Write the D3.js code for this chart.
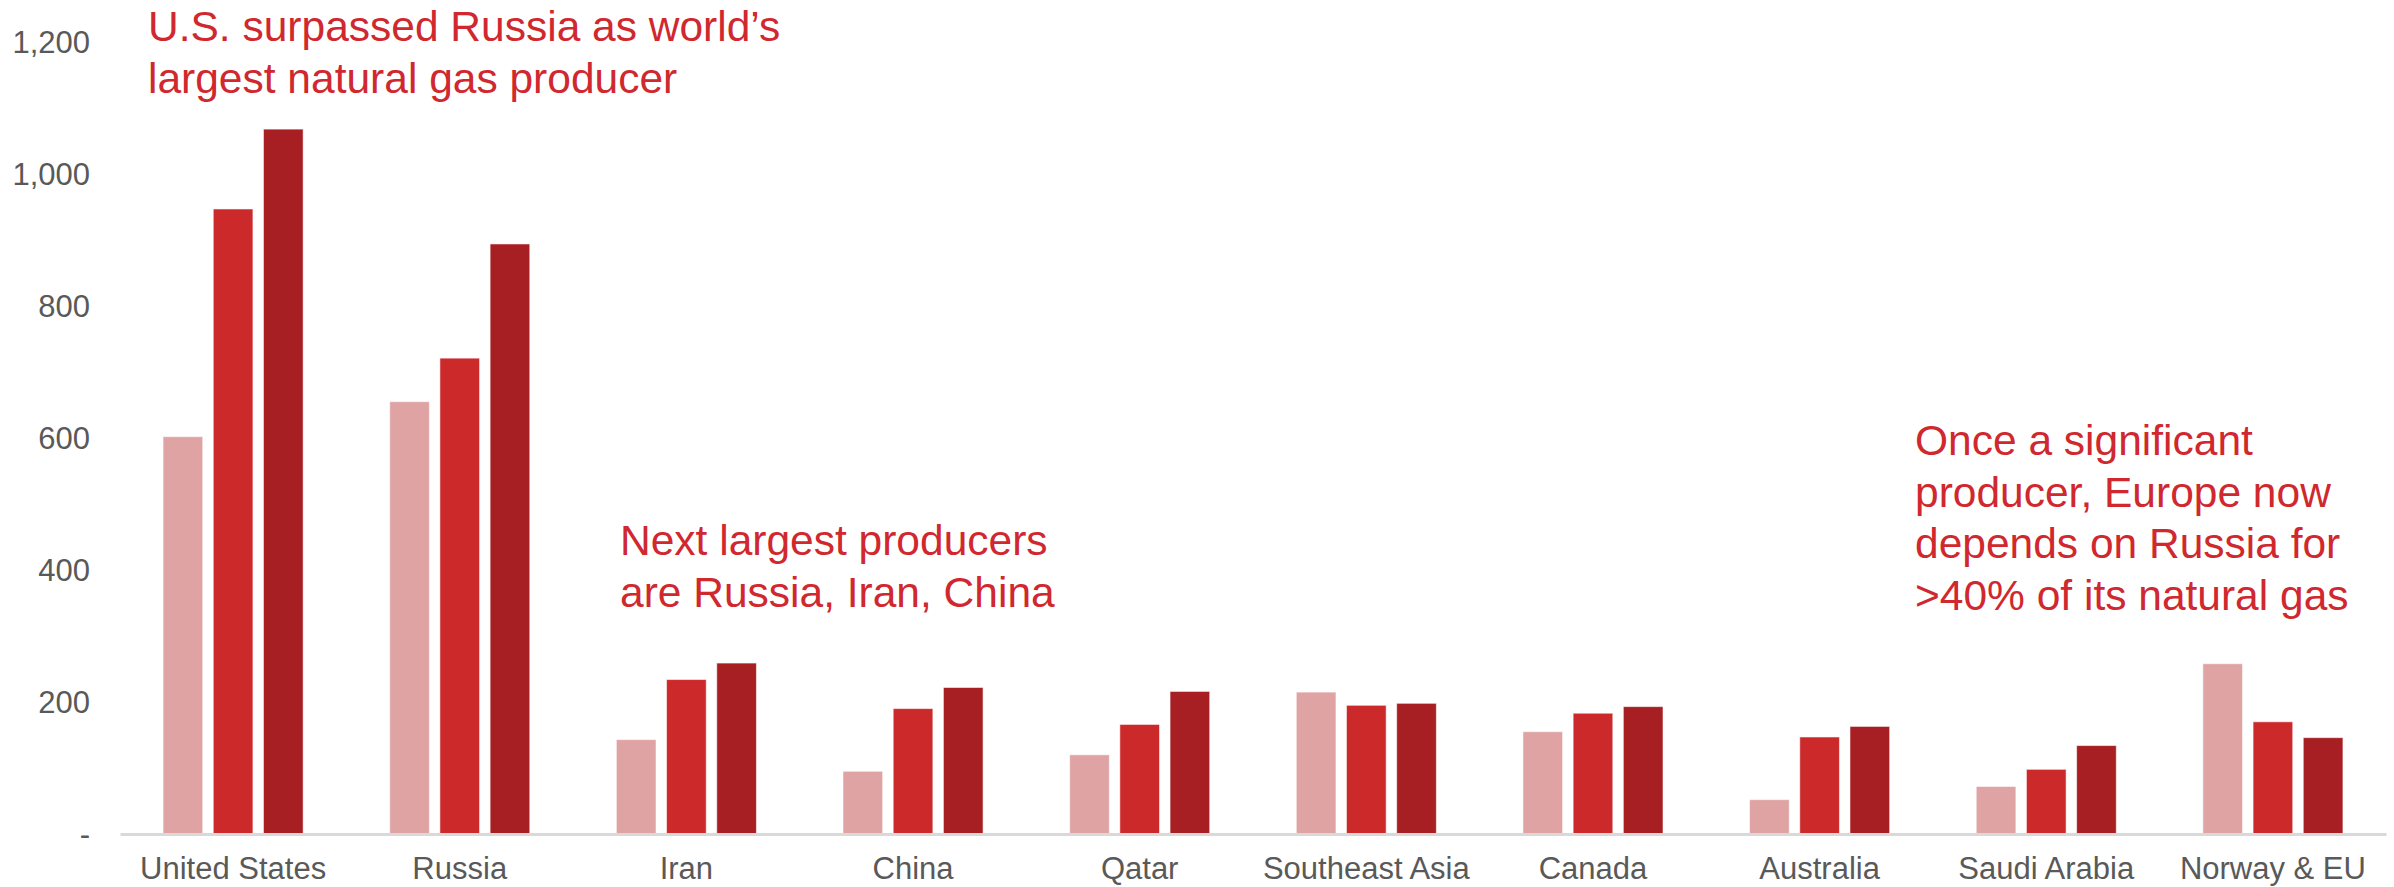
<!DOCTYPE html>
<html>
<head>
<meta charset="utf-8">
<script src="https://cdn.jsdelivr.net/npm/d3@7/dist/d3.min.js"></script>
<style>
  html, body { margin: 0; padding: 0; background: #ffffff; }
  svg { display: block; }
  text { font-family: "Liberation Sans", Arial, "Helvetica Neue", sans-serif; }
</style>
</head>
<body>
<svg id="chart" width="2394" height="887"></svg>
<script>
// Natural gas production by producer, three periods (bcm)
const categories = ["United States", "Russia", "Iran", "China", "Qatar",
  "Southeast Asia", "Canada", "Australia", "Saudi Arabia", "Norway & EU"];
const seriesKeys = ["earlier", "recent", "latest"];
const earlier = [602, 655, 143, 95, 120, 215, 155, 52, 72, 258];
const recent  = [947, 721, 234, 190, 166, 195, 183, 147, 98, 170];
const latest  = [1068, 894, 259, 222, 216, 198, 193, 163, 134, 146];
const seriesColors = ["#dfa3a4", "#cc292b", "#a71f22"];
const yTicks = [0, 200, 400, 600, 800, 1000, 1200];

const annotations = [
  { x: 148, y: 41, lines: ["U.S. surpassed Russia as world\u2019s", "largest natural gas producer"] },
  { x: 620, y: 555, lines: ["Next largest producers", "are Russia, Iran, China"] },
  { x: 1915, y: 455, lines: ["Once a significant", "producer, Europe now", "depends on Russia for", ">40% of its natural gas"] }
];

const values = { earlier, recent, latest };

const svg = d3.select("#chart");

const x0 = d3.scaleBand()
  .domain(categories)
  .range([120, 2386])
  .paddingInner(0.382)
  .paddingOuter(0.19);

const x1 = d3.scaleBand()
  .domain(seriesKeys)
  .range([0, x0.bandwidth()])
  .paddingInner(0.21);

const y = d3.scaleLinear()
  .domain([0, 1200])
  .range([834, 42]);

const color = d3.scaleOrdinal().domain(seriesKeys).range(seriesColors);

// Y axis labels (no line, no ticks)
const yAxis = d3.axisLeft(y)
  .tickValues(yTicks)
  .tickSize(0)
  .tickPadding(0)
  .tickFormat(d => d === 0 ? "-" : d3.format(",")(d));

const gy = svg.append("g")
  .attr("transform", "translate(90,0)")
  .call(yAxis);
gy.select(".domain").remove();
gy.selectAll("text")
  .attr("fill", "#595959")
  .style("font-size", "31px")
  .attr("dy", "0.35em");

// Bars
const groups = svg.append("g")
  .selectAll("g")
  .data(categories)
  .join("g")
  .attr("transform", d => `translate(${x0(d)},0)`);

groups.selectAll("rect")
  .data((c, i) => seriesKeys.map(k => ({ key: k, value: values[k][i] })))
  .join("rect")
  .attr("x", d => x1(d.key))
  .attr("width", x1.bandwidth())
  .attr("y", d => y(d.value))
  .attr("height", d => y(0) - y(d.value))
  .attr("fill", d => color(d.key))
  .attr("stroke", "rgba(255,255,255,0.55)")
  .attr("stroke-width", 1);

// X axis baseline and category labels
const xAxis = d3.axisBottom(x0).tickSize(0).tickPadding(0);
const gx = svg.append("g")
  .attr("transform", `translate(0,${y(0)})`)
  .call(xAxis);
gx.select(".domain")
  .attr("stroke", "#d9d9d9")
  .attr("stroke-width", 3);
gx.selectAll("text")
  .attr("fill", "#595959")
  .style("font-size", "31px")
  .attr("y", 45)
  .attr("dy", 0);

// Annotations
const ann = svg.append("g");
annotations.forEach(a => {
  const t = ann.append("text")
    .attr("x", a.x)
    .attr("y", a.y)
    .attr("fill", "#d0282e")
    .style("font-size", "42.5px");
  a.lines.forEach((line, i) => {
    t.append("tspan")
      .attr("x", a.x)
      .attr("dy", i === 0 ? 0 : 51.5)
      .text(line);
  });
});
</script>
</body>
</html>
